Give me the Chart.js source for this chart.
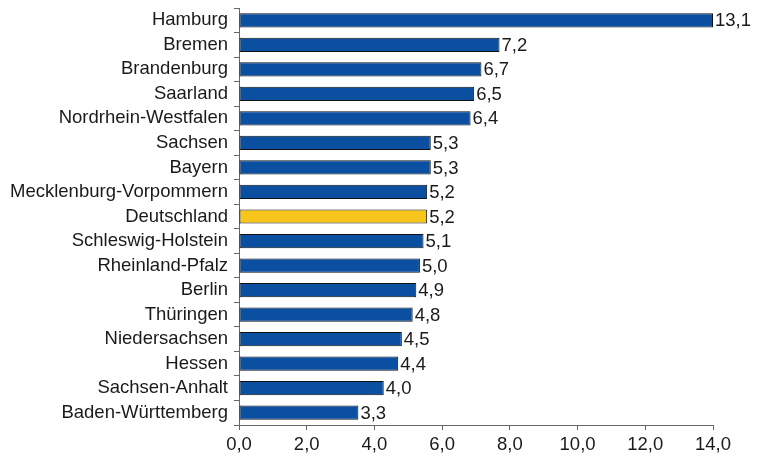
<!DOCTYPE html>
<html><head><meta charset="utf-8">
<script src="https://cdn.jsdelivr.net/npm/chart.js@4/dist/chart.umd.min.js"></script>
<style>html,body{margin:0;padding:0;background:#fff}#wrap{width:763px;height:466px}</style>
</head><body><div id="wrap"><canvas id="c"></canvas></div>
<script>
const categories = ["Hamburg","Bremen","Brandenburg","Saarland","Nordrhein-Westfalen","Sachsen","Bayern","Mecklenburg-Vorpommern","Deutschland","Schleswig-Holstein","Rheinland-Pfalz","Berlin","Thüringen","Niedersachsen","Hessen","Sachsen-Anhalt","Baden-Württemberg"];
const values = [13.1,7.2,6.7,6.5,6.4,5.3,5.3,5.2,5.2,5.1,5.0,4.9,4.8,4.5,4.4,4.0,3.3];
const highlight = "Deutschland";
// tick labels as printed in the source; in the source the bars fill the axis up to the largest value
const xTickLabels = ["0,0","2,0","4,0","6,0","8,0","10,0","12,0","14,0"];
const axisMax = 13.1;

const fmt = v => v.toFixed(1).replace('.', ',');
const FONT = {family: "'Liberation Sans', Arial, sans-serif", size: 18.5};

const labelPlugin = {
  id: 'vals',
  afterDatasetsDraw(chart) {
    const ctx = chart.ctx;
    const meta = chart.getDatasetMeta(0);
    ctx.save();
    ctx.font = "18.5px 'Liberation Sans', Arial, sans-serif";
    ctx.fillStyle = '#1a1a1a';
    ctx.textAlign = 'left';
    ctx.textBaseline = 'middle';
    meta.data.forEach((bar, i) => {
      ctx.fillText(fmt(values[i]), bar.x + 2, bar.y + 1);
    });
    ctx.restore();
  }
};

new Chart(document.getElementById('c'), {
  type: 'bar',
  data: {
    labels: categories,
    datasets: [{
      data: values,
      backgroundColor: categories.map(c => c === highlight ? '#F8C51C' : '#0B4FA0'),
      borderColor: '#111',
      borderWidth: 1,
      borderSkipped: false,
      categoryPercentage: 1,
      barPercentage: 0.58
    }]
  },
  options: {
    indexAxis: 'y',
    responsive: true,
    maintainAspectRatio: false,
    animation: false,
    events: [],
    layout: {padding: {left: 0, right: 50, top: 8, bottom: 0}},
    plugins: {legend: {display: false}, tooltip: {enabled: false}},
    scales: {
      x: {
        min: 0, max: axisMax,
        afterBuildTicks: ax => {
          const n = xTickLabels.length - 1;
          ax.ticks = xTickLabels.map((l, k) => ({value: axisMax * k / n}));
        },
        afterFit: ax => { ax.height = 41; ax.paddingLeft = 0; ax.paddingRight = 0; },
        grid: {drawOnChartArea: false, drawTicks: true, tickLength: 5, color: '#666', tickWidth: 1},
        border: {color: '#666', width: 1},
        ticks: {font: FONT, color: '#1a1a1a', padding: 4, maxRotation: 0,
                callback: (v, i) => xTickLabels[i]}
      },
      y: {
        afterFit: ax => { ax.width = 239; ax.paddingTop = 0; ax.paddingBottom = 0; },
        offset: true,
        grid: {offset: true, drawOnChartArea: false, drawTicks: true, tickLength: 5, color: '#666'},
        border: {color: '#666', width: 1},
        ticks: {font: FONT, color: '#1a1a1a', padding: 6, autoSkip: false}
      }
    }
  },
  plugins: [labelPlugin]
});
</script></body></html>
